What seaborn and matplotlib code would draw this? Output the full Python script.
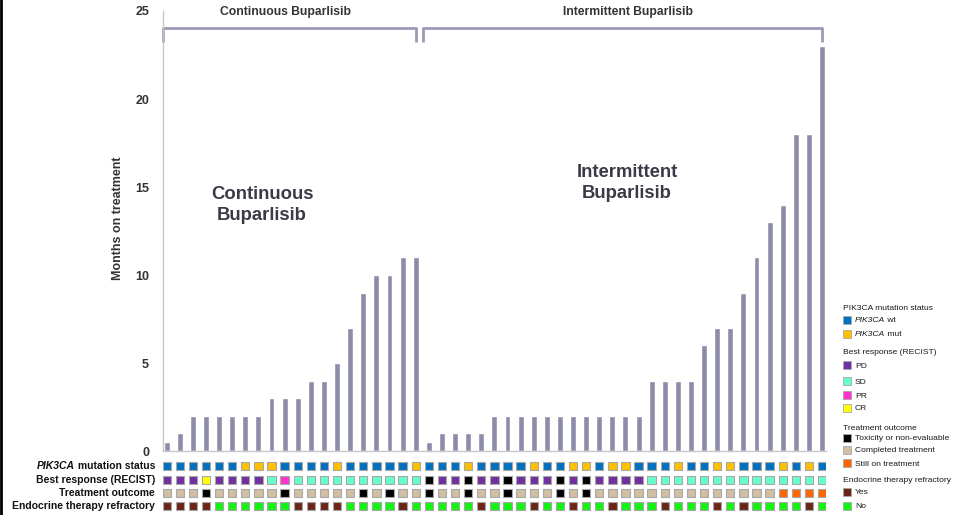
import numpy as np
import pandas as pd
import matplotlib
matplotlib.use("Agg")
import matplotlib.pyplot as plt
from matplotlib.patches import Rectangle
from matplotlib.transforms import blended_transform_factory
import seaborn as sns

# months on treatment, one bar per patient
cont_months = [0.5, 1, 2, 2, 2, 2, 2, 2, 3, 3, 3, 4, 4, 5, 7, 9, 10, 10, 11, 11]
inter_months = [0.5, 1, 1, 1, 1, 2, 2, 2, 2, 2, 2, 2, 2, 2, 2, 2, 2,
                4, 4, 4, 4, 6, 7, 7, 9, 11, 13, 14, 18, 18, 23]

# annotation rows
cont_pik3ca = ['wt', 'wt', 'wt', 'wt', 'wt', 'wt', 'mut', 'mut', 'mut', 'wt',
               'wt', 'wt', 'wt', 'mut', 'wt', 'wt', 'wt', 'wt', 'wt', 'mut']
cont_response = ['PD', 'PD', 'PD', 'CR', 'PD', 'PD', 'PD', 'PD', 'SD', 'PR',
                 'SD', 'SD', 'SD', 'SD', 'SD', 'SD', 'SD', 'SD', 'SD', 'SD']
cont_outcome = ['C', 'C', 'C', 'T', 'C', 'C', 'C', 'C', 'C', 'T',
                'C', 'C', 'C', 'C', 'C', 'T', 'C', 'T', 'C', 'C']
cont_endo = ['Y', 'Y', 'Y', 'Y', 'N', 'N', 'N', 'N', 'N', 'N',
             'Y', 'Y', 'Y', 'Y', 'N', 'N', 'N', 'N', 'Y', 'N']

inter_pik3ca = ['wt', 'wt', 'wt', 'mut', 'wt', 'wt', 'wt', 'wt', 'mut', 'wt', 'wt',
                'mut', 'mut', 'wt', 'mut', 'mut', 'wt', 'wt', 'wt', 'mut', 'wt',
                'wt', 'mut', 'mut', 'wt', 'wt', 'wt', 'mut', 'wt', 'mut', 'wt']
inter_response = ['NE', 'PD', 'PD', 'NE', 'PD', 'PD', 'NE', 'PD', 'PD', 'PD', 'NE',
                  'PD', 'NE', 'PD', 'PD', 'PD', 'PD', 'SD', 'SD', 'SD', 'SD',
                  'SD', 'SD', 'SD', 'SD', 'SD', 'SD', 'SD', 'SD', 'SD', 'SD']
inter_outcome = ['T', 'C', 'C', 'T', 'C', 'C', 'T', 'C', 'C', 'C', 'T',
                 'C', 'T', 'C', 'C', 'C', 'C', 'C', 'C', 'C', 'C',
                 'C', 'C', 'C', 'C', 'C', 'C', 'S', 'S', 'S', 'S']
inter_endo = ['N', 'N', 'N', 'N', 'Y', 'N', 'N', 'N', 'Y', 'N', 'N',
              'Y', 'N', 'N', 'Y', 'N', 'N', 'N', 'Y', 'N', 'N',
              'N', 'Y', 'N', 'Y', 'N', 'N', 'N', 'N', 'Y', 'N']

row_labels = ['mutation status', 'Best response (RECIST)', 'Treatment outcome',
              'Endocrine therapy refractory']

colors = {
    'wt': '#0070C0', 'mut': '#FFC000',
    'PD': '#7030A0', 'SD': '#66FFCC', 'PR': '#FF33CC', 'CR': '#FFFF00', 'NE': '#000000',
    'T': '#000000', 'C': '#D1BEA3', 'S': '#FF6600',
    'Y': '#6B2517', 'N': '#11F511',
}
bar_color = '#8C8CA8'
text_dark = '#333333'

months = cont_months + inter_months
bars = pd.DataFrame({'patient': np.arange(len(months)), 'months': months})

sns.set_style("white")
plt.rcParams['font.family'] = ['Liberation Sans', 'DejaVu Sans']

W, H = 954, 515
fig = plt.figure(figsize=(W / 100, H / 100), dpi=100)


def fx(px):
    return px / W


def fy(py):
    return 1 - py / H


ax = fig.add_axes([fx(163), fy(451), fx(826) - fx(163), fy(11) - fy(451)])
sns.barplot(data=bars, x='patient', y='months', color=bar_color, saturation=1,
            width=0.45, ax=ax)
xlim = (-0.28, len(months) - 0.7)
ax.set_xlim(*xlim)
ax.set_ylim(0, 25)
sns.despine(ax=ax)
for s in ['left', 'bottom']:
    ax.spines[s].set_color('#C8C8C8')
    ax.spines[s].set_linewidth(1)
ax.set_xticks(np.arange(len(months) - 1) + 0.5)
ax.set_xticklabels([])
ax.set_xlabel('')
ax.set_yticks([0, 5, 10, 15, 20, 25])
ax.set_yticklabels(['0', '5', '10', '15', '20', '25'], fontweight='bold',
                   fontsize=9, color=text_dark)
ax.tick_params(axis='both', length=4, color='#C8C8C8', direction='out', pad=6)
ax.tick_params(axis='x', length=4, pad=2)
ax.set_ylabel('Months on treatment', fontweight='bold', fontsize=9, color=text_dark)
ax.yaxis.set_label_coords((124 - 163) / 663, (451 - 218) / 440)

# group brackets at the top
n_cont = len(cont_months)
tr = blended_transform_factory(ax.transData, fig.transFigure)
bracket_kw = dict(color='#9A9AB8', lw=2, transform=tr, clip_on=False, solid_capstyle='butt')
for x0, x1 in [(-0.28, n_cont - 0.97), (n_cont - 0.46, len(months) - 1.0)]:
    ax.plot([x0, x0, x1, x1], [fy(42), fy(28), fy(28), fy(42)], **bracket_kw)
fig.text(fx(286), fy(12), 'Continuous Buparlisib', ha='center', va='center',
         fontweight='bold', fontsize=8.7, color=text_dark)
fig.text(fx(628), fy(12), 'Intermittent Buparlisib', ha='center', va='center',
         fontweight='bold', fontsize=8.7, color=text_dark)

big_color = '#3B3B48'
fig.text(fx(262), fy(205), 'Continuous\nBuparlisib', ha='center', va='center',
         fontweight='bold', fontsize=13.3, color=big_color, linespacing=1.25)
fig.text(fx(627), fy(183), 'Intermittent\nBuparlisib', ha='center', va='center',
         fontweight='bold', fontsize=13.3, color=big_color, linespacing=1.25)

# annotation rows below the bars
ann = fig.add_axes([fx(163), fy(513), fx(826) - fx(163), fy(458) - fy(513)])
ann.set_xlim(*xlim)
ann.set_ylim(513, 458)
ann.axis('off')
rows = [cont_pik3ca + inter_pik3ca, cont_response + inter_response,
        cont_outcome + inter_outcome, cont_endo + inter_endo]
row_y = [466, 480, 493, 506]
xs = np.arange(len(months))
for codes, y in zip(rows, row_y):
    ann.scatter(xs, [y] * len(xs), marker='s', s=36,
                c=[colors[c] for c in codes], edgecolors='#A8A8A8', linewidths=0.8)

lab_kw = dict(ha='right', va='center', fontweight='bold', fontsize=7.5, color='#111111')
t0 = fig.text(fx(155), fy(row_y[0]), ' ' + row_labels[0], **lab_kw)
for lab, y in zip(row_labels[1:], row_y[1:]):
    fig.text(fx(155), fy(y), lab, **lab_kw)
fig.canvas.draw()
bb = t0.get_window_extent()
fig.text(bb.x0 / W, fy(row_y[0]), 'PIK3CA', style='italic', **lab_kw)

# legend on the right
leg_fs = 6.1
leg_color = '#1A1A1A'
lx, sq = 843, 8
legend_items = [
    ('title', 'PIK3CA mutation status', None, 309),
    ('item', 'PIK3CA', 'wt', 321),
    ('item', 'PIK3CA', 'mut', 335),
    ('title', 'Best response (RECIST)', None, 353),
    ('item', 'PD', 'PD', 366),
    ('item', 'SD', 'SD', 382),
    ('item', 'PR', 'PR', 396),
    ('item', 'CR', 'CR', 409),
    ('title', 'Treatment outcome', None, 428),
    ('item', 'Toxicity or non-evaluable', 'T', 439),
    ('item', 'Completed treatment', 'C', 451),
    ('item', 'Still on treatment', 'S', 464),
    ('title', 'Endocrine therapy refractory', None, 481),
    ('item', 'Yes', 'Y', 493),
    ('item', 'No', 'N', 507),
]
for kind, label, key, y in legend_items:
    if kind == 'title':
        fig.text(fx(lx), fy(y), label, ha='left', va='center', fontsize=leg_fs,
                 color=leg_color)
        continue
    fig.add_artist(Rectangle((fx(lx), fy(y + sq / 2 - 1)), sq / W, sq / H,
                             transform=fig.transFigure, facecolor=colors[key],
                             edgecolor='#A8A8A8', lw=0.6))
    if key in ('wt', 'mut'):
        t = fig.text(fx(lx + 12), fy(y), label, ha='left', va='center',
                     fontsize=leg_fs, color=leg_color, style='italic')
        fig.canvas.draw()
        e = t.get_window_extent()
        fig.text(e.x1 / W, fy(y), ' ' + key, ha='left', va='center',
                 fontsize=leg_fs, color=leg_color)
    else:
        fig.text(fx(lx + 12), fy(y), label, ha='left', va='center',
                 fontsize=leg_fs, color=leg_color)

# dark border on the left edge
fig.add_artist(plt.Line2D([1 / W, 1 / W], [0, 1], transform=fig.transFigure,
                          color='black', lw=2))

fig.savefig('out.png', dpi=100)
